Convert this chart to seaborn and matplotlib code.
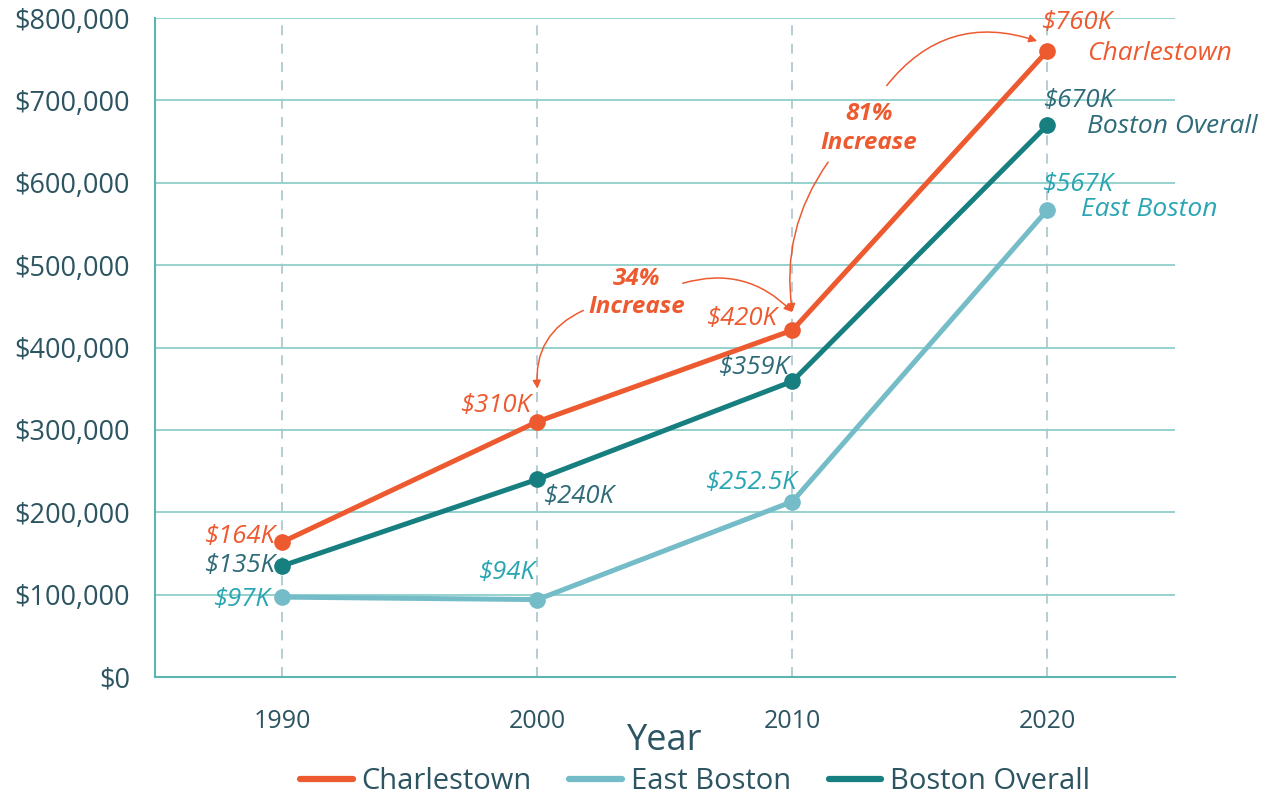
import pandas as pd
import matplotlib.pyplot as plt
import seaborn as sns
from matplotlib.lines import Line2D
from matplotlib.ticker import FuncFormatter

# data
years = [1990, 2000, 2010, 2020]
charlestown = [164000, 310000, 421000, 760000]
east_boston = [97000, 94000, 213000, 567000]
boston_overall = [135000, 240000, 359000, 670000]

charlestown_labels = ["$164K", "$310K", "$420K", "$760K"]
east_boston_labels = ["$97K", "$94K", "$252.5K", "$567K"]
boston_labels = ["$135K", "$240K", "$359K", "$670K"]

series = ["Charlestown", "East Boston", "Boston Overall"]
colors = {"Charlestown": "#EE5A2F", "East Boston": "#74BCC7", "Boston Overall": "#177F80"}
text_colors = {"Charlestown": "#EE5A2F", "East Boston": "#2AA6B3", "Boston Overall": "#2F6B78"}
dark = "#2C5461"

df = pd.DataFrame({
    "Year": years * 3,
    "Value": charlestown + east_boston + boston_overall,
    "Area": [s for s in series for _ in years],
})

sns.set_style("white")
plt.rcParams["font.family"] = ["Open Sans", "DejaVu Sans"]

fig = plt.figure(figsize=(12.66, 8.01), dpi=100)
ax = fig.add_axes([0.1224, 0.1548, 0.8056, 0.8227])

# grid
for y in range(0, 800001, 100000):
    ax.axhline(y, color="#8FCFCC", lw=1.3, zorder=0)
for yr in years:
    ax.axvline(yr, color="#A9C6C9", lw=1.2, ls=(0, (6, 5)), zorder=0)

sns.lineplot(data=df, x="Year", y="Value", hue="Area", hue_order=series,
             palette=colors, marker="o", markersize=12, markeredgewidth=0,
             linewidth=3.6, ax=ax, legend=False, zorder=3)

ax.set_xlim(1985, 2025)
ax.set_ylim(0, 800000)
ax.set_xticks(years)
ax.set_yticks(range(0, 800001, 100000))
ax.yaxis.set_major_formatter(FuncFormatter(lambda v, p: f"${v:,.0f}"))
ax.tick_params(axis="y", length=0, pad=18, labelsize=19.5, labelcolor=dark)
ax.tick_params(axis="x", length=0, pad=23, labelsize=18, labelcolor=dark)

for s in ["top", "right"]:
    ax.spines[s].set_visible(False)
for s in ["left", "bottom"]:
    ax.spines[s].set_color("#5BB5B3")
    ax.spines[s].set_linewidth(1.5)

ax.set_xlabel("Year", fontsize=26, color=dark)
ax.xaxis.set_label_coords(0.5, -0.07)
ax.set_ylabel("")

# value labels (offsets in pixels)
def label(vals, texts, offs, color, has):
    for x, v, t, o, h in zip(years, vals, texts, offs, has):
        ax.annotate(t, (x, v), xytext=o, textcoords="offset pixels",
                    ha=h, va="center", fontsize=18.5, style="italic", color=color, zorder=5)

label(charlestown, charlestown_labels,
      [(-8, 5), (-6, 16), (-15, 12), (29, 28)], text_colors["Charlestown"],
      ["right", "right", "right", "center"])
label(boston_overall, boston_labels,
      [(-8, 0), (6, -17), (-3, 14), (31, 25)], text_colors["Boston Overall"],
      ["right", "left", "right", "center"])
label(east_boston, east_boston_labels,
      [(-13, -2), (-3, 27), (4, 19), (30, 25)], text_colors["East Boston"],
      ["right", "right", "right", "center"])

# series names at the end of the lines
ends = {"Charlestown": charlestown[-1], "Boston Overall": boston_overall[-1],
        "East Boston": east_boston[-1]}
name_offs = {"Charlestown": (40, -3), "Boston Overall": (40, -1), "East Boston": (34, 0)}
for s in series:
    ax.annotate(s, (years[-1], ends[s]), xytext=name_offs[s], textcoords="offset pixels",
                ha="left", va="center", fontsize=19, style="italic",
                color=text_colors[s], zorder=5)

# increase callouts
orange = colors["Charlestown"]
ax.text(2003.9, 466000, "34%\nIncrease", ha="center", va="center", fontsize=17.5,
        fontweight="bold", style="italic", color=orange, linespacing=1.25)
ax.text(2013.0, 666000, "81%\nIncrease", ha="center", va="center", fontsize=17.5,
        fontweight="bold", style="italic", color=orange, linespacing=1.25)

arrow = dict(arrowstyle="-|>", color=orange, lw=1.1, mutation_scale=12, shrinkA=0, shrinkB=0)
ax.annotate("", xy=(2010.0, 443000), xytext=(2005.7, 478000),
            arrowprops=dict(arrow, connectionstyle="arc3,rad=-0.3"))
ax.annotate("", xy=(2000.0, 350000), xytext=(2001.8, 445000),
            arrowprops=dict(arrow, connectionstyle="arc3,rad=0.35"))
ax.annotate("", xy=(2019.6, 772000), xytext=(2013.7, 718000),
            arrowprops=dict(arrow, connectionstyle="arc3,rad=-0.35"))
ax.annotate("", xy=(2010.0, 443000), xytext=(2011.4, 625000),
            arrowprops=dict(arrow, connectionstyle="arc3,rad=0.2"))

handles = [Line2D([0], [0], color=colors[s], lw=4.5, solid_capstyle="round") for s in series]
leg = fig.legend(handles, series, loc="lower center", bbox_to_anchor=(0.549, -0.027),
                 ncol=3, frameon=False, fontsize=21,
                 handlelength=1.8, handletextpad=0.3, columnspacing=1.3)
for t in leg.get_texts():
    t.set_color(dark)

fig.savefig("out.png", dpi=100)
